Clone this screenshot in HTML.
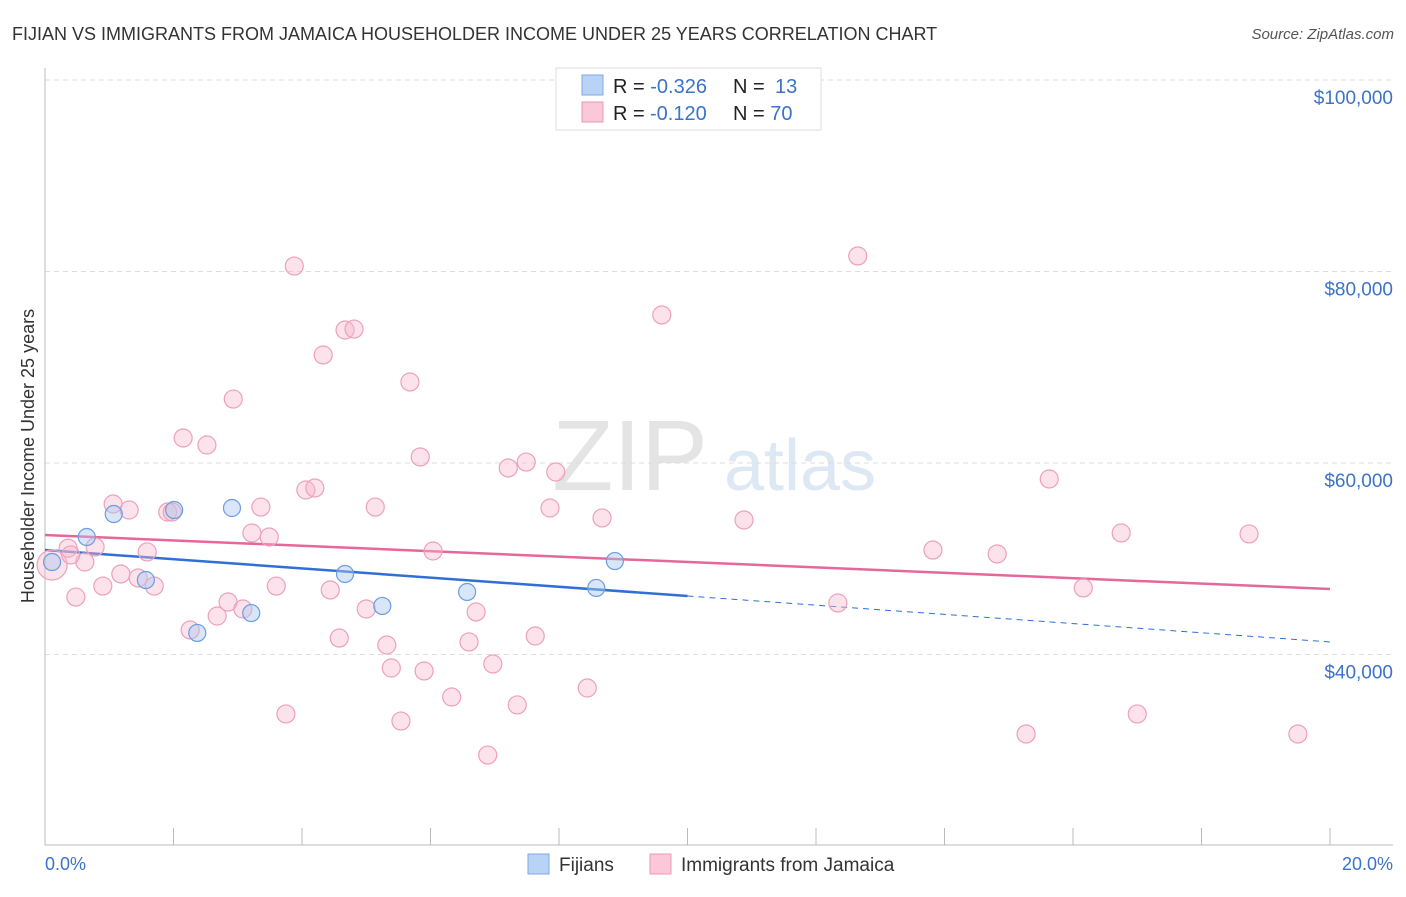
<!DOCTYPE html>
<html><head><meta charset="utf-8"><style>
body{margin:0;background:#fff;font-family:"Liberation Sans",sans-serif;}
svg text{font-family:"Liberation Sans",sans-serif;}
</style></head><body>
<svg id="chart" width="1406" height="892" viewBox="0 0 1406 892">
<text x="12" y="40" font-size="18" fill="#333">FIJIAN VS IMMIGRANTS FROM JAMAICA HOUSEHOLDER INCOME UNDER 25 YEARS CORRELATION CHART</text>
<text x="1394" y="39" font-size="15" fill="#555" text-anchor="end" font-style="italic">Source: ZipAtlas.com</text>
<text x="630" y="490" font-size="100" fill="#e4e4e4" font-family="Liberation Serif" text-anchor="middle">ZIP</text>
<text x="800" y="490" font-size="72" fill="#dde8f5" text-anchor="middle">atlas</text>
<g id="grid"></g><g id="axes"></g><g id="lines"></g><g id="points"></g>
<text transform="translate(34,456) rotate(-90)" font-size="18" fill="#333" text-anchor="middle">Householder Income Under 25 years</text>
<text x="45" y="870" font-size="18" fill="#3b73c9">0.0%</text>
<text x="1393" y="870" font-size="18" fill="#3b73c9" text-anchor="end">20.0%</text>
<g>
<rect x="556" y="68" width="265" height="62" fill="#fff" stroke="#ddd"/>
<rect x="582" y="75" width="21" height="20" fill="#b8d3f5" stroke="#7fa9e0"/>
<rect x="582" y="102" width="21" height="20" fill="#fac8d8" stroke="#ee9ab5"/>
<text x="613" y="93" font-size="20" fill="#222">R = <tspan fill="#3b73c9">-0.326</tspan><tspan x="733">N = </tspan><tspan x="775" fill="#3b73c9">13</tspan></text>
<text x="613" y="120" font-size="20" fill="#222">R = <tspan fill="#3b73c9" x="650">-0.120</tspan><tspan x="733">N = </tspan><tspan fill="#3b73c9">70</tspan></text>
</g>
<g>
<rect x="528" y="854" width="21" height="20" fill="#b8d3f5" stroke="#7fa9e0"/>
<text x="559" y="871" font-size="19" fill="#333">Fijians</text>
<rect x="650" y="854" width="21" height="20" fill="#fac8d8" stroke="#ee9ab5"/>
<text x="681" y="871" font-size="19" fill="#333">Immigrants from Jamaica</text>
</g>
</svg>
<script>
const yTicks=[40000,60000,80000,100000];
const yTickLabels=["$40,000","$60,000","$80,000","$100,000"];
const xTicks=[0,2,4,6,8,10,12,14,16,18,20];
const pinkX=[0.11,0.36,0.62,0.78,0.48,0.90,1.06,1.31,1.18,1.45,1.59,1.70,1.91,1.98,2.15,2.26,2.52,2.68,2.85,2.93,3.08,3.22,3.36,3.49,3.60,3.75,3.88,4.06,4.20,4.33,4.44,4.58,4.67,4.81,5.00,5.14,5.32,5.39,5.54,5.68,5.84,5.90,6.04,6.33,6.60,6.71,6.89,6.97,7.21,7.35,7.49,7.63,7.86,7.95,8.44,8.67,9.60,10.88,12.34,12.65,13.82,14.82,15.27,15.63,16.16,16.75,17.00,18.74,19.50,0.40];
const pinkY=[49.35,51.1,49.66,51.23,46.0,47.15,55.72,55.09,48.41,47.99,50.71,47.15,54.88,54.88,62.61,42.56,61.88,44.02,45.48,66.68,44.75,52.69,55.40,52.27,47.15,33.79,80.57,57.18,57.39,71.28,46.74,41.72,73.89,73.99,44.75,55.40,40.99,38.59,33.05,68.46,60.63,38.28,50.81,35.56,41.31,44.44,29.50,39.01,59.48,34.73,60.10,41.93,55.30,59.06,36.50,54.26,75.46,54.05,45.38,81.62,50.91,50.50,31.70,58.33,46.95,52.69,33.79,52.59,31.70,50.4];
const blueX=[0.11,0.65,1.07,1.57,2.01,2.37,2.91,3.21,4.67,5.25,6.57,8.58,8.87];
const blueY=[49.66,52.27,54.67,47.78,55.09,42.25,55.30,44.33,48.41,45.07,46.53,46.95,49.76];
const blueTrend=[50.91,41.31]; // at x=0 and x=20
const blueSolidEnd=10;
const pinkTrend=[52.48,46.84];
const NS="http://www.w3.org/2000/svg";
const sx=v=>45+v*64.25;
const sy=v=>80+(100-v)*9.575; // v in $k
function mk(parent,tag,attrs){const e=document.createElementNS(NS,tag);for(const k in attrs)e.setAttribute(k,attrs[k]);document.getElementById(parent).appendChild(e);return e;}
const tg=mk('grid','line',{x1:45,x2:1393,y1:sy(100),y2:sy(100),stroke:'#ddd','stroke-dasharray':'5,4'});
yTicks.forEach((t,i)=>{
 const y=sy(t/1000);
 const l=mk('grid','line',{x1:45,x2:1393,y1:y,y2:y,stroke:'#ddd','stroke-dasharray':'5,4'});
 
 
 const tx=mk('axes','text',{x:1393,y:y+24,'font-size':19,fill:'#3b73c9','text-anchor':'end'});
 tx.textContent=yTickLabels[i];
 
 
});
const ya=mk('axes','line',{x1:45,x2:45,y1:68,y2:845,stroke:'#bbb'});


const xa=mk('axes','line',{x1:45,x2:1393,y1:845,y2:845,stroke:'#bbb'});


xTicks.forEach(t=>{const l=mk('axes','line',{x1:sx(t),x2:sx(t),y1:828,y2:845,stroke:'#bbb'});
 
 });
pinkX.forEach((x,i)=>{const c=mk('points','circle',{cx:sx(x),cy:sy(pinkY[i]),r:i===0?15:9,fill:'rgba(248,183,205,0.4)',stroke:'#eea0bb','stroke-width':1.2});
 
 });
blueX.forEach((x,i)=>{const c=mk('points','circle',{cx:sx(x),cy:sy(blueY[i]),r:8.5,fill:'rgba(170,200,240,0.45)',stroke:'#6b9de0','stroke-width':1.2});
 
 });
const by=x=>blueTrend[0]+(blueTrend[1]-blueTrend[0])*x/20;
const b1=mk('lines','line',{x1:sx(0),y1:sy(by(0)),x2:sx(blueSolidEnd),y2:sy(by(blueSolidEnd)),stroke:'#2f6fd6','stroke-width':2.5});


const b2=mk('lines','line',{x1:sx(blueSolidEnd),y1:sy(by(blueSolidEnd)),x2:sx(20),y2:sy(by(20)),stroke:'#2f6fd6','stroke-width':1,'stroke-dasharray':'6,5'});


const p1=mk('lines','line',{x1:sx(0),y1:sy(pinkTrend[0]),x2:sx(20),y2:sy(pinkTrend[1]),stroke:'#e6679a','stroke-width':2.5});


</script>
</body></html>
